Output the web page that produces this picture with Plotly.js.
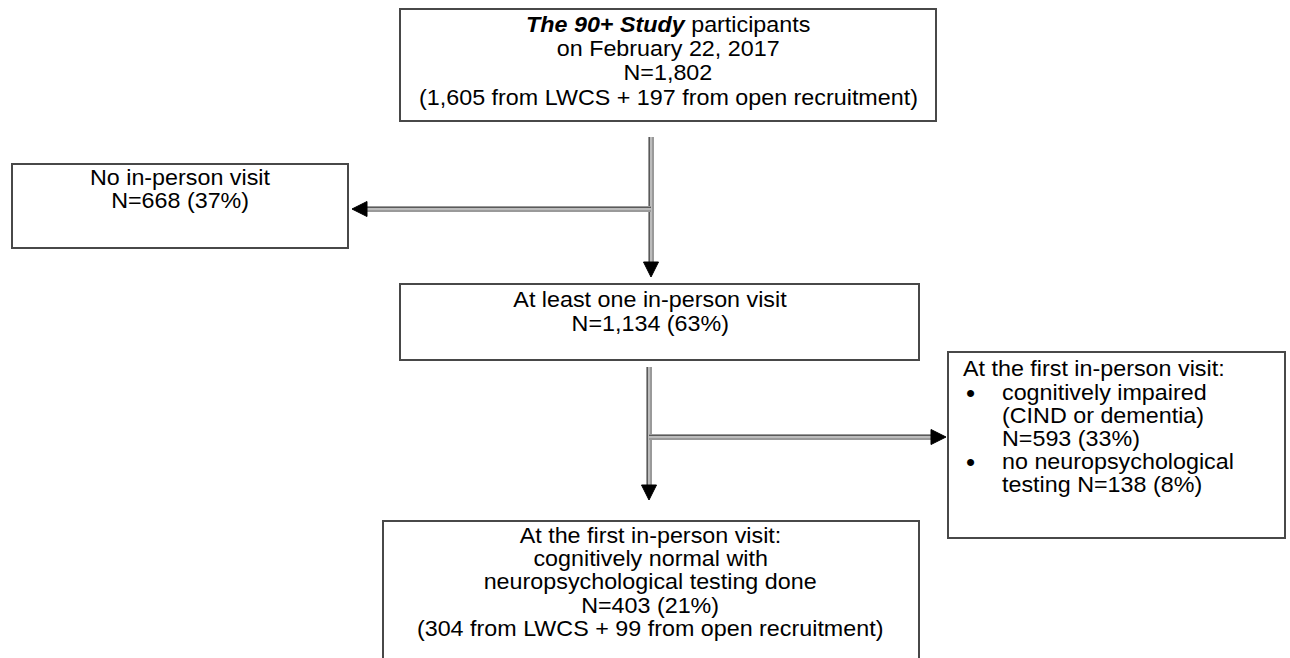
<!DOCTYPE html>
<html>
<head>
<meta charset="utf-8">
<script src="https://cdn.plot.ly/plotly-3.0.1.min.js"></script>
<style>
  html, body { margin: 0; padding: 0; background: #fff; }
  #chart { width: 1290px; height: 658px; }
</style>
</head>
<body>
<div id="chart"></div>
<script>
// ---------- data ----------
const stageN   = [1802, 668, 1134, 593, 138, 403];
const stagePct = [null, 37, 63, 33, 8, 21];
const lwcsN    = [1605, 304];
const openN    = [197, 99];
const fmt = n => n.toLocaleString('en-US');

const topLines = [
  '<b><i>The 90+ Study</i></b> participants',
  'on February 22, 2017',
  'N=' + fmt(stageN[0]),
  '(' + fmt(lwcsN[0]) + ' from LWCS + ' + fmt(openN[0]) + ' from open recruitment)'
];
const noVisitLines = ['No in-person visit', 'N=' + fmt(stageN[1]) + ' (' + stagePct[1] + '%)'];
const visitLines   = ['At least one in-person visit', 'N=' + fmt(stageN[2]) + ' (' + stagePct[2] + '%)'];
const excludedHeader = 'At the first in-person visit:';
const bullet1Lines = ['cognitively impaired', '(CIND or dementia)', 'N=' + fmt(stageN[3]) + ' (' + stagePct[3] + '%)'];
const bullet2Lines = ['no neuropsychological', 'testing N=' + fmt(stageN[4]) + ' (' + stagePct[4] + '%)'];
const finalLines = [
  'At the first in-person visit:',
  'cognitively normal with',
  'neuropsychological testing done',
  'N=' + fmt(stageN[5]) + ' (' + stagePct[5] + '%)',
  '(' + fmt(lwcsN[1]) + ' from LWCS + ' + fmt(openN[1]) + ' from open recruitment)'
];

// ---------- layout config ----------
const FONT = {family: '"Liberation Sans", Arial, Helvetica, sans-serif', size: 22, color: '#000'};
const BULLET_FONT = {family: '"Liberation Sans", Arial, sans-serif', size: 26, color: '#000'};
const BOX_LINE = {color: '#484848', width: 2};
const boxes = [
  [400, 9, 936, 121],
  [12, 164, 348, 248],
  [400, 284, 919, 360],
  [948, 352, 1285, 538],
  [383, 521, 919, 700]
];

const shapes = boxes.map(b => ({
  type: 'rect', xref: 'x', yref: 'y', x0: b[0], y0: b[1], x1: b[2], y1: b[3],
  line: BOX_LINE, fillcolor: 'rgba(0,0,0,0)', layer: 'above'
}));

// connector lines (shaded gray line)
function conn(x0, y0, x1, y1) {
  const vert = x0 === x1;
  const out = [];
  out.push({type: 'line', xref: 'x', yref: 'y', x0, y0, x1, y1, line: {color: '#9a9a9a', width: 6}});
  out.push({type: 'line', xref: 'x', yref: 'y', x0, y0, x1, y1, line: {color: '#bcbcbc', width: 2}});
  const d = -1.5;
  out.push({type: 'line', xref: 'x', yref: 'y',
    x0: vert ? x0 + d : x0, y0: vert ? y0 : y0 + d, x1: vert ? x1 + d : x1, y1: vert ? y1 : y1 + d,
    line: {color: '#5a5a5a', width: 1}});
  return out;
}
function head(tx, ty, dir) {
  const L = 15, H = 7.5;
  let p;
  if (dir === 'down')  p = `M${tx},${ty} L${tx - H},${ty - L} L${tx + H},${ty - L} Z`;
  if (dir === 'left')  p = `M${tx},${ty} L${tx + L},${ty - H} L${tx + L},${ty + H} Z`;
  if (dir === 'right') p = `M${tx},${ty} L${tx - L},${ty - H} L${tx - L},${ty + H} Z`;
  return {type: 'path', xref: 'x', yref: 'y', path: p, fillcolor: '#000', line: {color: '#000', width: 1}};
}
shapes.push(...conn(651, 137, 651, 262));
shapes.push(...conn(651, 209, 366, 209));
shapes.push(head(651, 277, 'down'));
shapes.push(head(352, 209, 'left'));
shapes.push(...conn(649, 367, 649, 485));
shapes.push(...conn(649, 437, 931, 437));
shapes.push(head(649, 500, 'down'));
shapes.push(head(946, 437, 'right'));

const annotations = [];
function addLines(lines, x, ys, anchor, font) {
  lines.forEach((t, i) => annotations.push({
    xref: 'x', yref: 'y', x, y: ys[i], text: t, showarrow: false,
    xanchor: anchor || 'center', yanchor: 'middle', align: anchor || 'center', font: font || FONT
  }));
}
addLines(topLines, 668, [24, 48, 72.5, 97]);
addLines(noVisitLines, 180, [177, 200]);
addLines(visitLines, 650, [299, 323]);
addLines([excludedHeader], 961, [368], 'left');
addLines(['•', '•'], 964, [393, 462], 'left', BULLET_FONT);
addLines(bullet1Lines, 1000, [392, 415, 438], 'left');
addLines(bullet2Lines, 1000, [461, 484], 'left');
addLines(finalLines, 650, [535, 558, 581, 605, 628, 651]);

const layout = {
  width: 1290, height: 658,
  margin: {l: 0, r: 0, t: 0, b: 0},
  paper_bgcolor: '#fff', plot_bgcolor: '#fff',
  showlegend: false,
  xaxis: {range: [0, 1290], visible: false, fixedrange: true},
  yaxis: {range: [658, 0], visible: false, fixedrange: true},
  shapes, annotations
};

Plotly.newPlot('chart', [], layout, {staticPlot: true, displayModeBar: false}).then(gd => {
  const SX = 1.06;
  gd.querySelectorAll('g.annotation').forEach((g, k) => {
    const idx = g.hasAttribute('data-index') ? +g.getAttribute('data-index') : k;
    const ann = layout.annotations[idx];
    const t = g.querySelector('text.annotation-text');
    if (!t || !ann || ann.text === '•') return;
    const bb = t.getBBox();
    const ox = ann.xanchor === 'left' ? bb.x : bb.x + bb.width / 2;
    const prev = t.getAttribute('transform') || '';
    t.setAttribute('transform', prev + ` translate(${ox},0) scale(${SX},1) translate(${-ox},0)`);
  });
});
</script>
</body>
</html>
